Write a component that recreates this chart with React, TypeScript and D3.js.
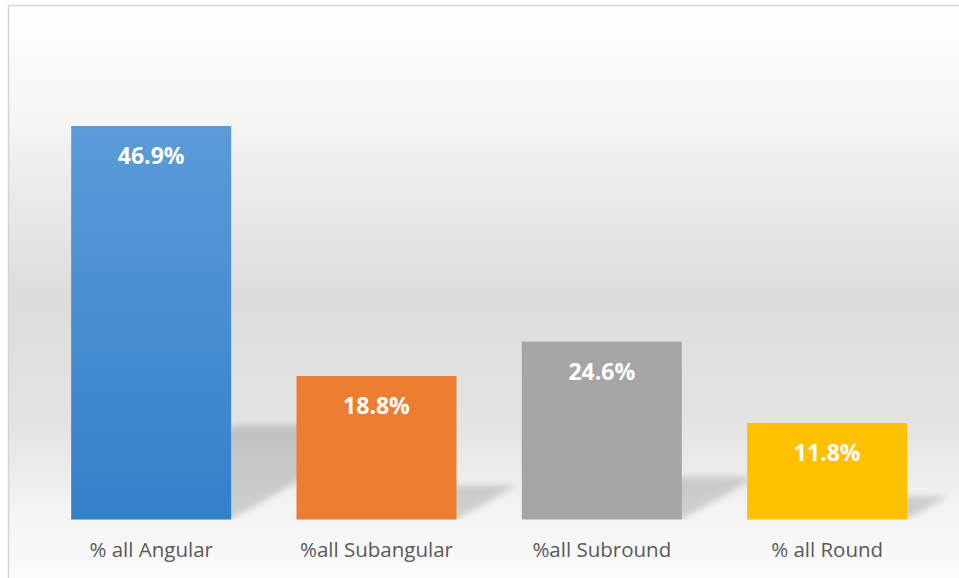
import React, { useEffect, useRef } from "react";
import * as d3 from "d3";

// categories and values
const categories = ["% all Angular", "%all Subangular", "%all Subround", "% all Round"];
// plotted bar heights (percent, as drawn)
const barValues = [46.9, 17.1, 21.2, 11.5];
// data label text shown on the bars
const barLabels = ["46.9%", "18.8%", "24.6%", "11.8%"];
const barColors = ["#4a8fd3", "#ed7d31", "#a5a5a5", "#ffc000"];

const width = 959;
const height = 578;

export default function App() {
  const ref = useRef<SVGSVGElement>(null);

  useEffect(() => {
    document.body.style.margin = "0";
    const svg = d3.select(ref.current);
    svg.selectAll("*").remove();

    const baseline = 519.5;
    const x = d3.scaleBand().domain(categories).range([38.5, 939.8]).paddingInner(0.29).paddingOuter(0.145);
    const y = d3.scaleLinear().domain([0, 46.9]).range([baseline, 126]);

    const defs = svg.append("defs");
    const bg = defs.append("linearGradient").attr("id", "bg").attr("x1", 0).attr("y1", 0).attr("x2", 0).attr("y2", 1);
    [[0, "#ffffff"], [0.18, "#f6f6f6"], [0.5, "#dddddd"], [0.72, "#e3e3e3"], [0.88, "#f4f4f4"], [1, "#fcfcfc"]]
      .forEach(([o, c]) => bg.append("stop").attr("offset", o as number).attr("stop-color", c as string));

    const blue = defs.append("linearGradient").attr("id", "blueGrad").attr("x1", 0).attr("y1", 0).attr("x2", 0).attr("y2", 1);
    blue.append("stop").attr("offset", 0).attr("stop-color", "#5b9bd8");
    blue.append("stop").attr("offset", 1).attr("stop-color", "#3380c9");

    const blur = defs.append("filter").attr("id", "blur")
      .attr("filterUnits", "userSpaceOnUse")
      .attr("x", 0).attr("y", 0).attr("width", width).attr("height", height);
    blur.append("feGaussianBlur").attr("stdDeviation", 3);

    defs.append("clipPath").attr("id", "floor")
      .append("rect").attr("x", 0).attr("y", 0).attr("width", width).attr("height", baseline);

    // chart area with gradient + border
    svg.append("rect")
      .attr("x", 8.5).attr("y", 5.5)
      .attr("width", width).attr("height", height)
      .attr("fill", "url(#bg)")
      .attr("stroke", "#d4d4d4")
      .attr("stroke-width", 1.5);

    // perspective shadows: bar laid back toward the upper right
    const shadows = svg.append("g").attr("clip-path", "url(#floor)");
    categories.forEach((c, i) => {
      const L = x(c)!;
      const R = L + x.bandwidth();
      const h = baseline - y(barValues[i]);
      const sh = 0.24 * h;
      const dx = 0.42 * h;
      const pts: [number, number][] = [
        [L, baseline],
        [R, baseline],
        [R + dx, baseline - sh],
        [L + dx, baseline - sh],
      ];
      shadows.append("path")
        .attr("d", d3.line()(pts) + "Z")
        .attr("fill", "#000000")
        .attr("opacity", 0.15)
        .attr("filter", "url(#blur)");
    });

    // bars
    svg.selectAll(".bar").data(categories).join("rect")
      .attr("class", "bar")
      .attr("x", d => x(d)!)
      .attr("y", (d, i) => y(barValues[i]))
      .attr("width", x.bandwidth())
      .attr("height", (d, i) => baseline - y(barValues[i]))
      .attr("fill", (d, i) => (i === 0 ? "url(#blueGrad)" : barColors[i]));

    // data labels
    svg.selectAll(".lbl").data(categories).join("text")
      .attr("class", "lbl")
      .attr("x", d => x(d)! + x.bandwidth() / 2)
      .attr("y", (d, i) => y(barValues[i]) + 38)
      .attr("text-anchor", "middle")
      .attr("fill", "#ffffff")
      .style("font-family", "'Open Sans', sans-serif")
      .style("font-weight", "bold")
      .style("font-size", "23px")
      .text((d, i) => barLabels[i]);

    // category axis labels
    svg.selectAll(".cat").data(categories).join("text")
      .attr("class", "cat")
      .attr("x", d => x(d)! + x.bandwidth() / 2)
      .attr("y", 557)
      .attr("text-anchor", "middle")
      .attr("fill", "#595959")
      .style("font-family", "'Open Sans', sans-serif")
      .style("font-size", "20.5px")
      .text(d => d);
  }, []);

  return <svg ref={ref} width={width} height={height} style={{ display: "block" }} />;
}
